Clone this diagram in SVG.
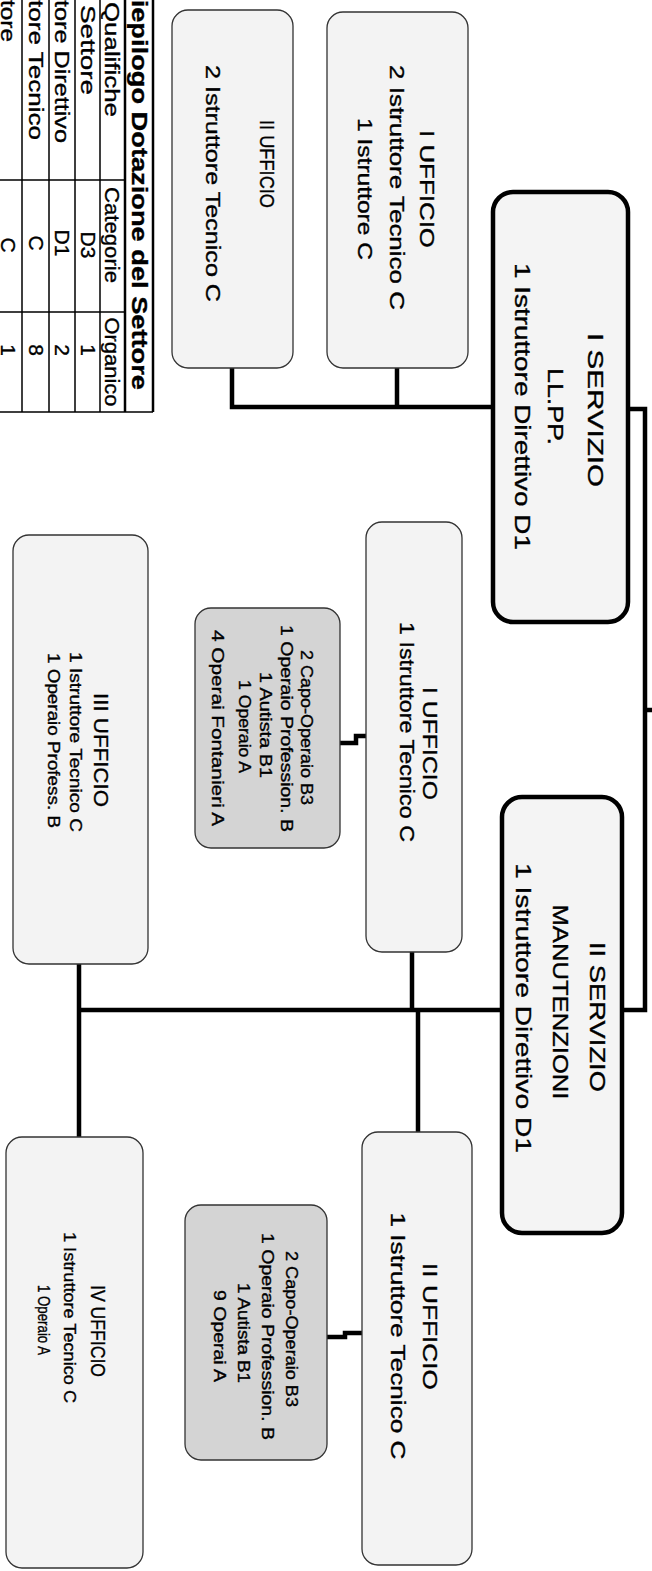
<svg xmlns="http://www.w3.org/2000/svg" width="652" height="1571" viewBox="0 0 652 1571">
<style>
text{font-family:"Liberation Sans",Arial,sans-serif;fill:#000;stroke:#000;stroke-width:0.35;text-anchor:middle}
.f22{font-size:22px}
.f21{font-size:21px}
.f17{font-size:17px}
.f16{font-size:16px}
.b{font-weight:bold}
.uff{fill:#f3f3f3;stroke:#333;stroke-width:1.3}
.serv{fill:#f4f4f4;stroke:#000;stroke-width:4.5}
.shd{fill:#d4d4d4;stroke:#333;stroke-width:1.3}
.conn{fill:none;stroke:#000;stroke-width:4.5;stroke-linejoin:miter}
.tl{stroke:#000;stroke-width:1.5;fill:none}
.tlb{stroke:#000;stroke-width:2.5;fill:none}
</style>
<rect width="652" height="1571" fill="#fff"/>

<g id="table">
  <path class="tl" d="M22,0V412M49,0V412M75,0V412M100,0V412M0,180H125M0,312H125M0,412H153"/>
  <path class="tlb" d="M125,0V412M153,0V412"/>
  <text class="f22 b" transform="translate(132,185) rotate(90)" textLength="410" lengthAdjust="spacingAndGlyphs">Riepilogo Dotazione del Settore</text>
  <text class="f21" transform="translate(104.5,59.5) rotate(90)" textLength="115" lengthAdjust="spacingAndGlyphs">Qualifiche</text>
  <text class="f21" transform="translate(104.5,235) rotate(90)" textLength="96" lengthAdjust="spacingAndGlyphs">Categorie</text>
  <text class="f21" transform="translate(104.5,362) rotate(90)" textLength="89" lengthAdjust="spacingAndGlyphs">Organico</text>
  <text class="f21" transform="translate(80.5,50) rotate(90)" textLength="90" lengthAdjust="spacingAndGlyphs">Settore</text>
  <text class="f21" transform="translate(54.5,71.5) rotate(90)" textLength="143" lengthAdjust="spacingAndGlyphs">tore Direttivo</text>
  <text class="f21" transform="translate(28.5,70) rotate(90)" textLength="140" lengthAdjust="spacingAndGlyphs">tore Tecnico</text>
  <text class="f21" transform="translate(0.5,21) rotate(90)" textLength="42" lengthAdjust="spacingAndGlyphs">tore</text>
  <text class="f21" transform="translate(80.5,245) rotate(90)">D3</text>
  <text class="f21" transform="translate(54.5,243) rotate(90)">D1</text>
  <text class="f21" transform="translate(28.5,243) rotate(90)">C</text>
  <text class="f21" transform="translate(0.5,245) rotate(90)">C</text>
  <text class="f21" transform="translate(80.5,350) rotate(90)">1</text>
  <text class="f21" transform="translate(54.5,350) rotate(90)">2</text>
  <text class="f21" transform="translate(28.5,350) rotate(90)">8</text>
  <text class="f21" transform="translate(0.5,350) rotate(90)">1</text>
</g>

<g id="connectors">
  <path class="conn" d="M232,368V407H493"/>
  <path class="conn" d="M397,368V407"/>
  <path class="conn" d="M628,409H645V1010H622"/>
  <path class="conn" d="M645,710H654"/>
  <path class="conn" d="M502,1010H79"/>
  <path class="conn" d="M79,964V1137"/>
  <path class="conn" d="M412,952V1010"/>
  <path class="conn" d="M418,1010V1132"/>
  <path class="conn" d="M340,743H356V736H366"/>
  <path class="conn" d="M327,1337H345V1333H362"/>
</g>

<g id="servizio1">
  <rect class="serv" x="493" y="192" width="135" height="430" rx="20"/>
  <text class="f22" transform="translate(588,410) rotate(90)" textLength="154" lengthAdjust="spacingAndGlyphs">I SERVIZIO</text>
  <text class="f22" transform="translate(548,406.5) rotate(90)" textLength="77" lengthAdjust="spacingAndGlyphs">LL.PP.</text>
  <text class="f22" transform="translate(515,406.5) rotate(90)" textLength="287" lengthAdjust="spacingAndGlyphs">1 Istruttore Direttivo D1</text>
</g>

<g id="ufficio1-llpp">
  <rect class="uff" x="327" y="12" width="141" height="356" rx="16"/>
  <text class="f21" transform="translate(419.5,189) rotate(90)" textLength="118" lengthAdjust="spacingAndGlyphs">I UFFICIO</text>
  <text class="f21" transform="translate(389.5,187.5) rotate(90)" textLength="245" lengthAdjust="spacingAndGlyphs">2 Istruttore Tecnico C</text>
  <text class="f21" transform="translate(357.5,189) rotate(90)" textLength="142" lengthAdjust="spacingAndGlyphs">1 Istruttore C</text>
</g>

<g id="ufficio2-llpp">
  <rect class="uff" x="172" y="10" width="121" height="358" rx="16"/>
  <text class="f21" transform="translate(259.5,164) rotate(90)" textLength="88" lengthAdjust="spacingAndGlyphs">II UFFICIO</text>
  <text class="f21" transform="translate(205.5,183.5) rotate(90)" textLength="237" lengthAdjust="spacingAndGlyphs">2 Istruttore Tecnico C</text>
</g>

<g id="servizio2">
  <rect class="serv" x="502" y="797" width="120" height="436" rx="20"/>
  <text class="f22" transform="translate(590,1017) rotate(90)" textLength="150" lengthAdjust="spacingAndGlyphs">II SERVIZIO</text>
  <text class="f22" transform="translate(553,1002) rotate(90)" textLength="195" lengthAdjust="spacingAndGlyphs">MANUTENZIONI</text>
  <text class="f22" transform="translate(516,1008) rotate(90)" textLength="290" lengthAdjust="spacingAndGlyphs">1 Istruttore Direttivo D1</text>
</g>

<g id="ufficio1-manut">
  <rect class="uff" x="366" y="522" width="96" height="430" rx="16"/>
  <text class="f21" transform="translate(422.5,743.5) rotate(90)" textLength="113" lengthAdjust="spacingAndGlyphs">I UFFICIO</text>
  <text class="f21" transform="translate(399.5,732) rotate(90)" textLength="220" lengthAdjust="spacingAndGlyphs">1 Istruttore Tecnico C</text>
</g>

<g id="personale1">
  <rect class="shd" x="195" y="608" width="145" height="240" rx="16"/>
  <text class="f16" transform="translate(301,727.5) rotate(90)" textLength="155" lengthAdjust="spacingAndGlyphs">2 Capo-Operaio B3</text>
  <text class="f16" transform="translate(281,728.5) rotate(90)" textLength="207" lengthAdjust="spacingAndGlyphs">1 Operaio Profession. B</text>
  <text class="f16" transform="translate(260,725) rotate(90)" textLength="106" lengthAdjust="spacingAndGlyphs">1 Autista B1</text>
  <text class="f16" transform="translate(239,726.5) rotate(90)" textLength="93" lengthAdjust="spacingAndGlyphs">1 Operaio A</text>
  <text class="f16" transform="translate(212,728) rotate(90)" textLength="196" lengthAdjust="spacingAndGlyphs">4 Operai Fontanieri A</text>
</g>

<g id="ufficio3-manut">
  <rect class="uff" x="13" y="535" width="135" height="429" rx="16"/>
  <text class="f21" transform="translate(93.5,750) rotate(90)" textLength="114" lengthAdjust="spacingAndGlyphs">III UFFICIO</text>
  <text class="f17" transform="translate(70,742) rotate(90)" textLength="180" lengthAdjust="spacingAndGlyphs">1 Istruttore Tecnico C</text>
  <text class="f17" transform="translate(48,740.5) rotate(90)" textLength="175" lengthAdjust="spacingAndGlyphs">1 Operaio Profess. B</text>
</g>

<g id="ufficio2-manut">
  <rect class="uff" x="362" y="1132" width="110" height="433" rx="16"/>
  <text class="f21" transform="translate(422.5,1326.5) rotate(90)" textLength="127" lengthAdjust="spacingAndGlyphs">II UFFICIO</text>
  <text class="f21" transform="translate(390.5,1336) rotate(90)" textLength="247" lengthAdjust="spacingAndGlyphs">1 Istruttore Tecnico C</text>
</g>

<g id="personale2">
  <rect class="shd" x="185" y="1205" width="142" height="255" rx="16"/>
  <text class="f16" transform="translate(286,1329) rotate(90)" textLength="156" lengthAdjust="spacingAndGlyphs">2 Capo-Operaio B3</text>
  <text class="f16" transform="translate(262,1336.5) rotate(90)" textLength="207" lengthAdjust="spacingAndGlyphs">1 Operaio Profession. B</text>
  <text class="f16" transform="translate(238,1333) rotate(90)" textLength="100" lengthAdjust="spacingAndGlyphs">1 Autista B1</text>
  <text class="f16" transform="translate(214,1336) rotate(90)" textLength="92" lengthAdjust="spacingAndGlyphs">9 Operai A</text>
</g>

<g id="ufficio4-manut">
  <rect class="uff" x="6" y="1137" width="137" height="431" rx="16"/>
  <text class="f21" transform="translate(90.5,1331) rotate(90)" textLength="92" lengthAdjust="spacingAndGlyphs">IV UFFICIO</text>
  <text class="f17" transform="translate(64,1317.5) rotate(90)" textLength="171" lengthAdjust="spacingAndGlyphs">1 Istruttore Tecnico C</text>
  <text class="f17" transform="translate(38,1320) rotate(90)" textLength="70" lengthAdjust="spacingAndGlyphs">1 Operaio A</text>
</g>
</svg>
